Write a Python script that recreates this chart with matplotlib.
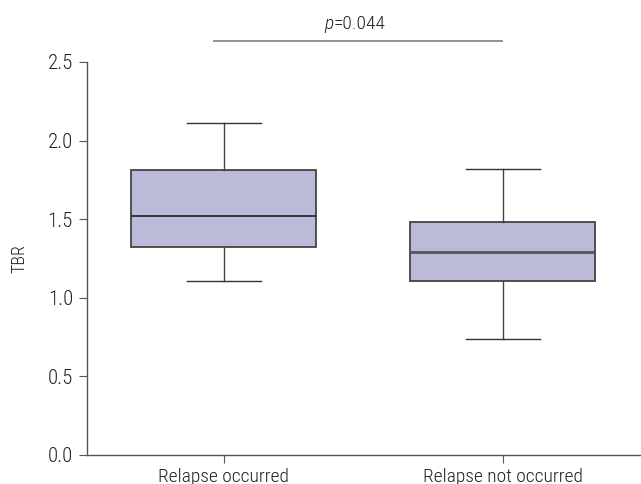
import matplotlib
matplotlib.use("Agg")
import matplotlib.pyplot as plt

categories = ["Relapse occurred", "Relapse not occurred"]
whislo = [1.11, 0.74]
q1 = [1.32, 1.11]
med = [1.52, 1.29]
q3 = [1.81, 1.48]
whishi = [2.11, 1.82]
p_text = "=0.044"
yticks = [0.0, 0.5, 1.0, 1.5, 2.0, 2.5]

plt.rcParams['font.family'] = ['Roboto Condensed', 'Barlow Semi Condensed', 'Archivo Narrow', 'Liberation Sans', 'DejaVu Sans']
plt.rcParams['font.weight'] = 300
plt.rcParams['axes.labelweight'] = 300

fig = plt.figure(figsize=(6.41, 4.84), dpi=100)
ax = fig.add_axes([87/641, 29/484, 1 - 87/641, (455-62)/484])

stats = []
for i, c in enumerate(categories):
    stats.append(dict(label=c, whislo=whislo[i], q1=q1[i], med=med[i], q3=q3[i], whishi=whishi[i], fliers=[]))

bp = ax.bxp(stats, positions=[0, 1], widths=0.663, capwidths=0.265, showfliers=False,
            patch_artist=True,
            boxprops=dict(facecolor="#BBBBD9", edgecolor="#444444", linewidth=1.3),
            medianprops=dict(color="#222222", linewidth=1.2),
            whiskerprops=dict(color="#444444", linewidth=1.0),
            capprops=dict(color="#333333", linewidth=1.0))
bp["medians"][1].set_color("#555555")
bp["medians"][1].set_linewidth(2.0)

ax.set_xlim(-0.491, 1.495)
ax.set_ylim(0, 2.5)
ax.set_yticks(yticks)
ax.set_yticklabels([f"{v:.1f}" for v in yticks])
ax.set_xticks([0, 1])
ax.set_xticklabels(categories)
for s in ["top", "right"]:
    ax.spines[s].set_visible(False)
for s in ["left", "bottom"]:
    ax.spines[s].set_color("#555555")
    ax.spines[s].set_linewidth(1.0)
ax.tick_params(axis="y", labelsize=15, length=6, color="#555555", pad=4, labelcolor="#222222")
ax.tick_params(axis="x", labelsize=14, length=6, color="#555555", pad=3, labelcolor="#222222")
ax.set_ylabel("TBR", fontsize=13, color="#222222", labelpad=14, fontweight=300)

# significance bracket
ax.plot([-0.036, 0.996], [2.634, 2.634], color="#888888", linewidth=1.3, clip_on=False)
ax.text(0.393, 2.685, "p", ha="right", va="bottom", fontsize=14, color="#222222", style="italic")
ax.text(0.393, 2.685, p_text, ha="left", va="bottom", fontsize=14, color="#222222")

fig.savefig("out.png", dpi=100)
